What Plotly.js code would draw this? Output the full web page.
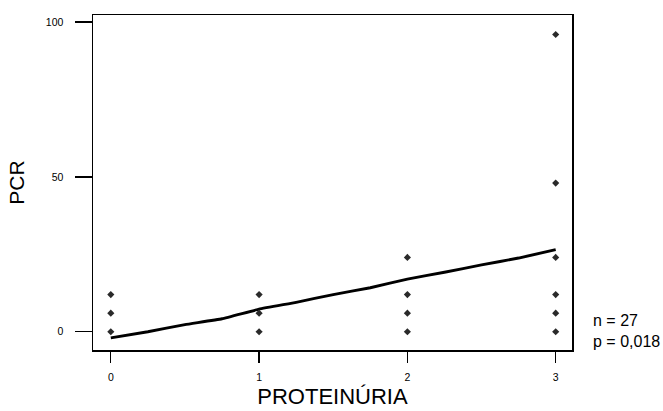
<!DOCTYPE html>
<html>
<head>
<meta charset="utf-8">
<script src="https://cdn.plot.ly/plotly-3.0.1.min.js"></script>
<style>html,body{margin:0;padding:0;background:#fff;}#chart{width:663px;height:411px;}</style>
</head>
<body>
<div id="chart"></div>
<script>
// Observed points (PROTEINÚRIA grade vs PCR)
const pointX = [0, 0, 0, 1, 1, 1, 2, 2, 2, 2, 3, 3, 3, 3, 3, 3];
const pointY = [0, 6, 12, 0, 6, 12, 0, 6, 12, 24, 0, 6, 12, 24, 48, 96];
// Smoothed trend line
const lineX = [0, 0.25, 0.5, 0.75, 1, 1.25, 1.5, 1.75, 2, 2.25, 2.5, 2.75, 3];
const lineY = [-2, 0, 2.3, 4.2, 7.3, 9.5, 12, 14.2, 17, 19.2, 21.6, 23.8, 26.5];
const xTicks = [0, 1, 2, 3];
const yTicks = [0, 50, 100];

const traces = [
  {x: lineX, y: lineY, mode: 'lines', type: 'scatter',
   line: {color: '#000', width: 2.9, shape: 'spline', smoothing: 0.3}, hoverinfo: 'skip'},
  {x: pointX, y: pointY, mode: 'markers', type: 'scatter',
   marker: {symbol: 'diamond', size: 5.5, color: '#2a2a2a'}}
];

const font = 'Liberation Sans, Arial, sans-serif';
const layout = {
  width: 663, height: 411,
  margin: {l: 93, r: 91, t: 15, b: 61},
  paper_bgcolor: '#fff', plot_bgcolor: '#fff',
  showlegend: false,
  font: {family: font, color: '#000'},
  xaxis: {
    range: [-0.12, 3.11], tickvals: xTicks, ticktext: xTicks.map(String),
    showgrid: false, zeroline: false, showline: true, mirror: true,
    linecolor: '#000', linewidth: 1.5,
    ticks: 'outside', ticklen: 11, tickwidth: 1.3, tickcolor: '#000',
    ticklabelstandoff: 6,
    tickfont: {size: 10.5, family: font},
    title: {text: 'PROTEINÚRIA', font: {size: 22, family: font}, standoff: 6}
  },
  yaxis: {
    range: [-5.9, 102.3], tickvals: yTicks, ticktext: yTicks.map(String),
    showgrid: false, zeroline: false, showline: true, mirror: true,
    linecolor: '#000', linewidth: 1.5,
    ticks: 'outside', ticklen: 17, tickwidth: 1.3, tickcolor: '#000',
    ticklabelstandoff: 9,
    tickfont: {size: 10.5, family: font},
    title: {text: 'PCR', font: {size: 21, family: font}, standoff: 15}
  },
  annotations: [
    {xref: 'paper', yref: 'paper', x: 1, y: 0, xshift: 19, yshift: -1.5,
     xanchor: 'left', yanchor: 'bottom', align: 'left', showarrow: false,
     text: 'n = 27<br>p = 0,018', font: {size: 16, family: font}}
  ]
};

Plotly.newPlot('chart', traces, layout, {displayModeBar: false, staticPlot: true});
</script>
</body>
</html>
